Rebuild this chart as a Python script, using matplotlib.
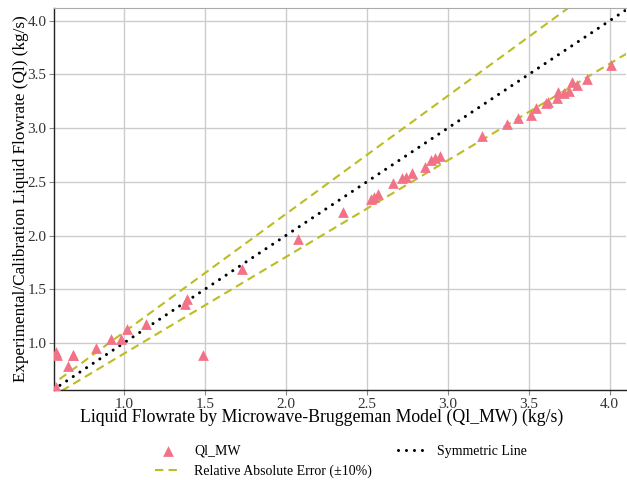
import numpy as np
import matplotlib
matplotlib.use('Agg')
import matplotlib.pyplot as plt

# Ql_MW (model) vs Ql (experimental/calibration), kg/s
ql_mw = [0.58, 0.583, 0.59, 0.657, 0.684, 0.688, 0.826, 0.92, 0.98, 1.02,
         1.135, 1.38, 1.39, 1.49, 1.731, 2.078, 2.356, 2.526, 2.547, 2.567,
         2.665, 2.72, 2.74, 2.78, 2.86, 2.90, 2.92, 2.95, 3.214, 3.368,
         3.434, 3.516, 3.543, 3.605, 3.62, 3.676, 3.682, 3.717, 3.748, 3.768,
         3.80, 3.861, 4.011]
ql = [0.59, 0.92, 0.89, 0.786, 0.888, 0.885, 0.956, 1.035, 1.035, 1.13,
      1.18, 1.36, 1.41, 0.888, 1.687, 1.966, 2.224, 2.339, 2.363, 2.389,
      2.494, 2.535, 2.544, 2.58, 2.64, 2.70, 2.72, 2.743, 2.923, 3.038,
      3.094, 3.125, 3.187, 3.234, 3.24, 3.28, 3.333, 3.327, 3.342, 3.426,
      3.404, 3.458, 3.59]
err_pct = 10

PINK = '#f27387'; OLIVE = '#bcbd22'

plt.rcParams['font.family'] = ['Liberation Serif', 'DejaVu Serif']

fig = plt.figure(figsize=(6.27, 4.8), dpi=100)
ax = fig.add_axes([0.086, 0.1875, 0.912, 0.796])

xl = (0.568, 4.10); yl = (0.562, 4.12)
line_x = np.array([0.4, 4.4])

ax.scatter(ql_mw, ql, marker='^', s=60, color=PINK, linewidths=0, zorder=3, label='Ql_MW')
ax.plot(line_x, line_x * (1 + err_pct / 100), ls=(0, (4, 2.5)), color=OLIVE, lw=1.5, zorder=2,
        label='Relative Absolute Error (\u00b110%)')
ax.plot(line_x, line_x * (1 - err_pct / 100), ls=(0, (4, 2.5)), color=OLIVE, lw=1.5, zorder=2)
ax.plot(line_x, line_x, ls=(0, (0.01, 2.6)), color='black', lw=2.2, zorder=2,
        dash_capstyle='round', label='Symmetric Line')

ax.set_xlim(*xl); ax.set_ylim(*yl)
ax.set_xticks([1.0, 1.5, 2.0, 2.5, 3.0, 3.5, 4.0])
ax.set_yticks([1.0, 1.5, 2.0, 2.5, 3.0, 3.5, 4.0])
ax.grid(True, color='#cccccc', lw=1.0)
ax.set_axisbelow(True)
ax.tick_params(labelsize=11, colors='#333333', length=3.5, color='#888888', pad=2)
for s in ['left', 'bottom']:
    ax.spines[s].set_color('#222222'); ax.spines[s].set_linewidth(1.0)
ax.spines['top'].set_color('#aaaaaa')
ax.spines['right'].set_visible(False)

ax.set_xlabel('Liquid Flowrate by Microwave-Bruggeman Model (Ql_MW) (kg/s)', fontsize=12.8)
ax.xaxis.set_label_coords(0.469, -0.05, transform=ax.transAxes)
ax.xaxis.label.set_va('top')
ax.set_ylabel('Experimental/Calibration Liquid Flowrate (Ql) (kg/s)', fontsize=12.3, labelpad=-1)

fig.legend(loc='upper center', bbox_to_anchor=(0.544, 0.10), ncol=2, frameon=False,
           fontsize=10, columnspacing=1.9, handlelength=1.8, handletextpad=1.0)

plt.savefig('out.png', dpi=100)
